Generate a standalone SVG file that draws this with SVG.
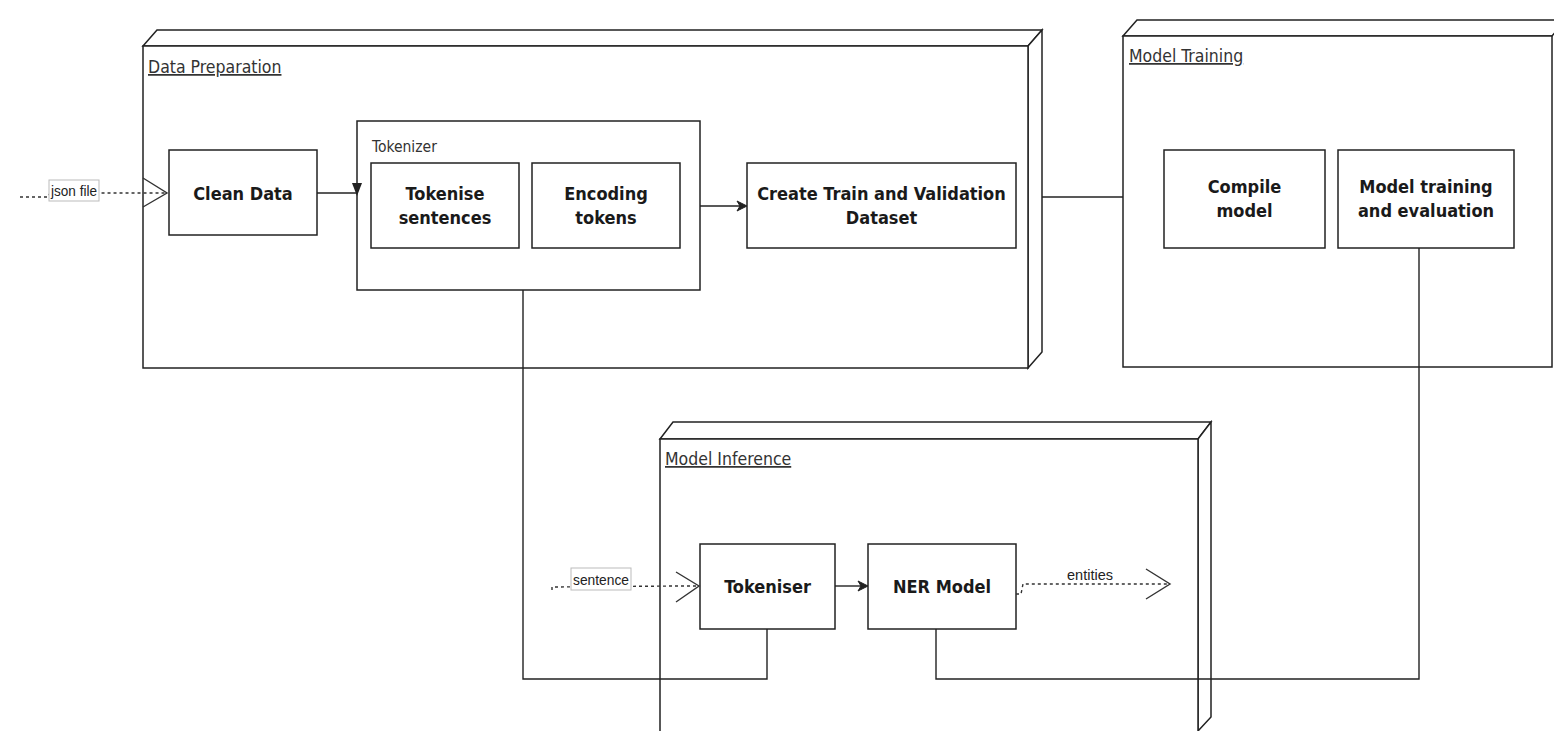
<svg xmlns="http://www.w3.org/2000/svg" width="1554" height="731" viewBox="0 0 1554 731">
<defs>
<style>
.box{fill:#fff;stroke:#222;stroke-width:1.5}
.frame{fill:#fff;stroke:#222;stroke-width:1.5}
.title{font-family:"DejaVu Sans Condensed","Open Sans",sans-serif;font-stretch:condensed;font-size:17.5px;fill:#333;text-decoration:underline}
.sub{font-family:"DejaVu Sans Condensed","Open Sans",sans-serif;font-stretch:condensed;font-size:15.5px;fill:#333}
.lbl{font-family:"DejaVu Sans Condensed","Open Sans",sans-serif;font-stretch:condensed;font-size:18px;font-weight:bold;fill:#1a1a1a;text-anchor:middle}
.edge{fill:none;stroke:#222;stroke-width:1.4}
.dash{fill:none;stroke:#333;stroke-width:1.4;stroke-dasharray:3 3}
.open{fill:none;stroke:#333;stroke-width:1.4}
.elbl{font-family:"Liberation Sans",Arial,sans-serif;font-size:14.5px;fill:#222}
</style>
</defs>
<rect width="1554" height="731" fill="#fff"/>

<g id="data-preparation">
<path class="frame" d="M143,46 L157,30 L1042,30 L1028,46 Z"/>
<path class="frame" d="M1028,46 L1042,30 L1042,352 L1028,368 Z"/>
<rect class="frame" x="143" y="46" width="885" height="322"/>
<text class="title" x="148" y="73">Data Preparation</text>
</g>

<g id="model-training">
<path class="frame" d="M1123,36 L1137,20 L1566,20 L1552,36 Z"/>
<rect class="frame" x="1123" y="36" width="429" height="331"/>
<text class="title" x="1129" y="62">Model Training</text>
</g>

<g id="model-inference">
<path class="frame" d="M660,439 L673,422 L1211,422 L1198,439 Z"/>
<path class="frame" d="M1198,439 L1211,422 L1211,717 L1198,731 Z"/>
<rect class="frame" x="660" y="439" width="538" height="294"/>
<text class="title" x="665" y="465">Model Inference</text>
</g>

<g id="clean-data">
<rect class="box" x="169" y="150" width="148" height="85"/>
<text class="lbl" x="243" y="200">Clean Data</text>
</g>

<g id="tokenizer">
<rect class="box" x="357" y="121" width="343" height="169"/>
<text class="sub" x="372" y="152">Tokenizer</text>
</g>

<g id="tokenise-sentences">
<rect class="box" x="371" y="163" width="148" height="85"/>
<text class="lbl" x="445" y="200">Tokenise</text>
<text class="lbl" x="445" y="224">sentences</text>
</g>

<g id="encoding-tokens">
<rect class="box" x="532" y="163" width="148" height="85"/>
<text class="lbl" x="606" y="200">Encoding</text>
<text class="lbl" x="606" y="224">tokens</text>
</g>

<g id="create-dataset">
<rect class="box" x="747" y="163" width="269" height="85"/>
<text class="lbl" x="881.5" y="200">Create Train and Validation</text>
<text class="lbl" x="881.5" y="224">Dataset</text>
</g>

<g id="compile-model">
<rect class="box" x="1164" y="150" width="161" height="98"/>
<text class="lbl" x="1244.5" y="193">Compile</text>
<text class="lbl" x="1244.5" y="217">model</text>
</g>

<g id="model-train-eval">
<rect class="box" x="1338" y="150" width="176" height="98"/>
<text class="lbl" x="1426" y="193">Model training</text>
<text class="lbl" x="1426" y="217">and evaluation</text>
</g>

<g id="tokeniser">
<rect class="box" x="700" y="544" width="135" height="85"/>
<text class="lbl" x="767.5" y="593">Tokeniser</text>
</g>

<g id="ner-model">
<rect class="box" x="868" y="544" width="148" height="85"/>
<text class="lbl" x="942" y="593">NER Model</text>
</g>

<g id="connectors">
<path class="dash" d="M20,197 L48,197 L50,193 L167,193"/>
<path class="open" d="M143,178 L167,193 L143,207"/>
<rect x="49" y="180" width="50" height="21" fill="#fff" stroke="#bbb" stroke-width="1"/>
<text class="elbl" x="51" y="196" textLength="46" lengthAdjust="spacingAndGlyphs">json file</text>

<path class="edge" d="M317,193 L357,193"/>
<polygon points="352,183 362,183 357,196" fill="#222"/>

<path class="edge" d="M700,206 L740,206"/>
<polygon points="747,206 737,201 740,206 737,211" fill="#222" stroke="#222" stroke-width="1"/>

<path class="edge" d="M1042,197 L1123,197"/>

<path class="edge" d="M523,290 L523,679 L767,679 L767,629"/>

<path class="edge" d="M1419,248 L1419,679 L936,679 L936,629"/>

<path class="dash" d="M552,590 L552,587 L676,586 L699,586"/>
<path class="open" d="M676,572 L699,586 L676,602"/>
<rect x="571" y="568" width="60" height="22" fill="#fff" stroke="#bbb" stroke-width="1"/>
<text class="elbl" x="573" y="585" textLength="56" lengthAdjust="spacingAndGlyphs">sentence</text>

<path class="edge" d="M835,586 L861,586"/>
<polygon points="868,586 858,581 861,586 858,591" fill="#222" stroke="#222" stroke-width="1"/>

<path class="dash" d="M1016,594 L1021,594 L1023,584 L1170,584"/>
<path class="open" d="M1146,569 L1170,584 L1146,599"/>
<rect x="1065" y="569" width="50" height="14" fill="#fff"/>
<text class="elbl" x="1067" y="580" textLength="46" lengthAdjust="spacingAndGlyphs">entities</text>
</g>
</svg>
